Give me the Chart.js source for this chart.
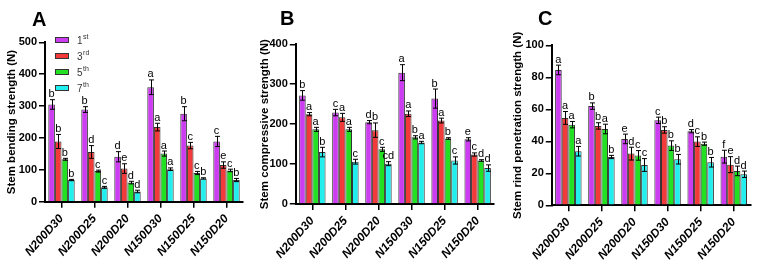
<!DOCTYPE html>
<html><head><meta charset="utf-8">
<script src="https://cdn.jsdelivr.net/npm/chart.js@4.4.0/dist/chart.umd.min.js"></script>
<style>
body{margin:0;background:#fff;width:759px;height:264px;overflow:hidden;position:relative}
canvas{position:absolute;top:0}
</style></head><body>
<canvas id="cA" width="253" height="264" style="left:0"></canvas>
<canvas id="cB" width="253" height="264" style="left:253px"></canvas>
<canvas id="cC" width="253" height="264" style="left:506px"></canvas>
<script>
const categories = ['N200D30','N200D25','N200D20','N150D30','N150D25','N150D20'];
const seriesNames = ['1st','3rd','5th','7th'];
const seriesBase = ['1','3','5','7'];
const seriesSup = ['st','rd','th','th'];
const colors = ['#CC3CF0','#F23A3A','#22E022','#22EEEE'];

// Panel A: stem bending strength (N)
const bend1 = [305, 289, 141, 359, 276, 189];
const bend3 = [189, 156, 104, 234, 176, 115];
const bend5 = [133, 96, 60, 151, 90, 98];
const bend7 = [68, 45, 32, 102, 73, 68];
const bendErr1 = [15, 9, 16, 23, 22, 16];
const bendErr3 = [22, 20, 15, 12, 10, 10];
const bendErr5 = [3, 3, 4, 8, 5, 4];
const bendErr7 = [2, 3, 4, 4, 2, 5];
const bendLet1 = ['b','b','d','a','b','c'];
const bendLet3 = ['b','d','e','a','c','e'];
const bendLet5 = ['b','c','d','a','c','c'];
const bendLet7 = ['b','c','d','a','b','b'];
const bendTicks = [0, 500, 100];

// Panel B: stem compressive strength (N)
const comp1 = [272, 229, 205, 329, 264, 162];
const comp3 = [225, 217, 185, 226, 209, 124];
const comp5 = [187, 187, 137, 167, 164, 109];
const comp7 = [130, 106, 101, 154, 109, 90];
const compErr1 = [12, 8, 4, 20, 24, 4];
const compErr3 = [4, 10, 18, 7, 6, 4];
const compErr5 = [5, 5, 5, 4, 2, 2];
const compErr7 = [12, 6, 5, 3, 9, 8];
const compLet1 = ['b','c','d','a','b','e'];
const compLet3 = ['a','a','b','a','a','c'];
const compLet5 = ['a','a','c','b','b','d'];
const compLet7 = ['b','c','cd','a','c','d'];
const compTicks = [0, 400, 100];

// Panel C: stem rind penetration strength (N)
const rind1 = [84.6, 62, 41.5, 53.1, 46.3, 30.4];
const rind3 = [54.6, 49.6, 32.3, 47.1, 39.8, 25.4];
const rind5 = [50.4, 47.7, 31.2, 37.3, 38.5, 21.5];
const rind7 = [33.8, 30.2, 25.2, 28.8, 26.9, 19.4];
const rindErr1 = [3, 2, 3, 2, 1, 4];
const rindErr3 = [4, 2, 4, 2, 3, 5];
const rindErr5 = [2, 3, 3, 3, 1, 3];
const rindErr7 = [3, 1, 4, 3, 3, 2];
const rindLet1 = ['a','b','e','c','d','f'];
const rindLet3 = ['a','b','d','b','c','e'];
const rindLet5 = ['a','a','c','b','b','d'];
const rindLet7 = ['a','b','c','b','b','d'];
const rindTicks = [0, 100, 20];

const FONT = "Arial, 'Liberation Sans', sans-serif";
const W = 253, H = 264;

function makeChart(id, cfg) {
  const decor = {
    id: 'decor' + id,
    afterDatasetsDraw(chart) {
      const ctx = chart.ctx, ys = chart.scales.y;
      chart.data.datasets.forEach((ds, di) => {
        const meta = chart.getDatasetMeta(di);
        meta.data.forEach((bar, i) => {
          const v = ds.data[i], e = cfg.errs[di][i];
          const x = Math.round(bar.x) + 0.5;
          const yt = ys.getPixelForValue(v + e), yb = ys.getPixelForValue(v - e);
          ctx.save();
          ctx.strokeStyle = '#000'; ctx.lineWidth = 1;
          ctx.beginPath();
          ctx.moveTo(x, yt); ctx.lineTo(x, yb);
          ctx.moveTo(x - 2.5, yt); ctx.lineTo(x + 2.5, yt);
          ctx.moveTo(x - 2.5, yb); ctx.lineTo(x + 2.5, yb);
          ctx.stroke();
          ctx.fillStyle = '#000'; ctx.font = '11px ' + FONT;
          ctx.textAlign = 'center'; ctx.textBaseline = 'alphabetic';
          ctx.fillText(cfg.lets[di][i], bar.x, yt - 2.5);
          ctx.restore();
        });
      });
    },
    afterDraw(chart) {
      const ctx = chart.ctx;
      ctx.save();
      ctx.fillStyle = '#000';
      ctx.font = 'bold 20px ' + FONT;
      ctx.textAlign = 'left'; ctx.textBaseline = 'alphabetic';
      ctx.fillText(cfg.panel, cfg.panelX, cfg.panelY);
      if (cfg.legend) {
        const rows = [40, 56, 72, 88];
        rows.forEach((yc, i) => {
          ctx.fillStyle = colors[i];
          ctx.fillRect(55, yc - 3, 14, 6);
          ctx.strokeStyle = '#333'; ctx.lineWidth = 1;
          ctx.strokeRect(55.5, yc - 2.5, 13, 5);
          ctx.fillStyle = '#333';
          ctx.font = '10px ' + FONT;
          ctx.textBaseline = 'middle';
          ctx.fillText(seriesBase[i], 77, yc + 1);
          const w = ctx.measureText(seriesBase[i]).width;
          ctx.font = '7px ' + FONT;
          ctx.fillText(seriesSup[i], 77 + w + 0.5, yc - 3);
        });
      }
      ctx.restore();
    }
  };
  return new Chart(document.getElementById(id), {
    type: 'bar',
    data: {
      labels: categories,
      datasets: cfg.means.map((m, i) => ({
        label: seriesNames[i], data: m, backgroundColor: colors[i],
        borderColor: '#333', borderWidth: 1, barPercentage: 1, categoryPercentage: 0.8
      }))
    },
    options: {
      responsive: false, animation: false, devicePixelRatio: 1,
      layout: { padding: { left: 0, top: cfg.top, right: W - cfg.right, bottom: 0 } },
      plugins: { legend: { display: false }, tooltip: { enabled: false } },
      scales: {
        x: {
          offset: true,
          grid: { display: true, drawOnChartArea: false, offset: false, tickLength: 6, color: '#000', lineWidth: 1.5 },
          border: { display: true, color: '#000', width: 2 },
          ticks: { color: '#000', font: { family: FONT, size: 12, style: 'italic', weight: 'bold' },
                   minRotation: 48, maxRotation: 48, padding: 4, autoSkip: false },
          afterFit: s => { s.height = H - cfg.bottom; }
        },
        y: {
          min: cfg.ticks[0], max: cfg.ticks[1],
          ticks: { stepSize: cfg.ticks[2], color: '#000', font: { family: FONT, size: 11, weight: 'bold' }, padding: 2 },
          grid: { drawOnChartArea: false, tickLength: 6, color: '#000', lineWidth: 1.5 },
          border: { display: true, color: '#000', width: 2 },
          title: { display: true, text: cfg.title, color: '#000',
                   font: { family: FONT, size: 11.5, weight: 'bold' }, padding: { top: 5, bottom: 0 } },
          afterFit: s => { s.width = cfg.left; }
        }
      }
    },
    plugins: [decor]
  });
}

makeChart('cA', {
  left: 45, right: 243, top: 42.3, bottom: 201.7, ticks: bendTicks,
  title: 'Stem bending strength (N)',
  means: [bend1, bend3, bend5, bend7],
  errs: [bendErr1, bendErr3, bendErr5, bendErr7],
  lets: [bendLet1, bendLet3, bendLet5, bendLet7],
  panel: 'A', panelX: 32, panelY: 26, legend: true
});
makeChart('cB', {
  left: 42.8, right: 241.2, top: 44.3, bottom: 204, ticks: compTicks,
  title: 'Stem compressive strength (N)',
  means: [comp1, comp3, comp5, comp7],
  errs: [compErr1, compErr3, compErr5, compErr7],
  lets: [compLet1, compLet3, compLet5, compLet7],
  panel: 'B', panelX: 27, panelY: 25, legend: false
});
makeChart('cC', {
  left: 45.8, right: 244.3, top: 45.3, bottom: 205.3, ticks: rindTicks,
  title: 'Stem rind penetration strength (N)',
  means: [rind1, rind3, rind5, rind7],
  errs: [rindErr1, rindErr3, rindErr5, rindErr7],
  lets: [rindLet1, rindLet3, rindLet5, rindLet7],
  panel: 'C', panelX: 32, panelY: 25, legend: false
});
</script>
</body></html>
